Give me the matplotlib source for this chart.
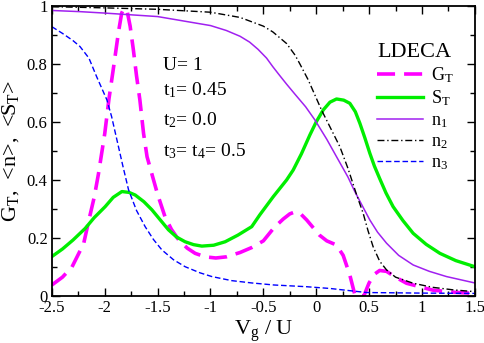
import matplotlib
matplotlib.use("Agg")
import matplotlib.pyplot as plt
from matplotlib.ticker import MultipleLocator

plt.rcParams["font.family"] = ["Liberation Serif", "DejaVu Serif"]
plt.rcParams["mathtext.fontset"] = "custom"
plt.rcParams["mathtext.rm"] = "Liberation Serif"
plt.rcParams["mathtext.it"] = "Liberation Serif:italic"

# G_T (conductance)
g_x = [-2.5, -2.4, -2.31, -2.2, -2.15, -2.1, -2.06, -2.0, -1.96, -1.92, -1.87, -1.84,
       -1.82, -1.79, -1.76, -1.73, -1.7, -1.668, -1.633, -1.6, -1.554, -1.5, -1.43,
       -1.37, -1.3, -1.22, -1.145, -1.05, -0.95, -0.85, -0.72, -0.61, -0.5, -0.4,
       -0.313, -0.25, -0.2, -0.15, -0.09, 0.03, 0.1, 0.19, 0.255, 0.318, 0.365, 0.38,
       0.45, 0.5, 0.55, 0.6, 0.665, 0.75, 0.854, 1.0, 1.106, 1.3, 1.5]
g_y = [0.038, 0.065, 0.10, 0.18, 0.262, 0.34, 0.42, 0.56, 0.68, 0.78, 0.91, 0.975,
       0.99, 0.985, 0.93, 0.85, 0.76, 0.676, 0.56, 0.48, 0.42, 0.35, 0.273,
       0.23, 0.193, 0.165, 0.147, 0.135, 0.131, 0.135, 0.15, 0.167, 0.19, 0.235,
       0.265, 0.283, 0.29, 0.284, 0.262, 0.21, 0.19, 0.176, 0.14, 0.072, 0.005, 0.0,
       0.0, 0.045, 0.075, 0.088, 0.085, 0.065, 0.044, 0.03, 0.02, 0.013, 0.009]

# S_T
s_x = [-2.5, -2.4, -2.3, -2.185, -2.1, -1.996, -1.92, -1.838, -1.77, -1.712, -1.63,
       -1.554, -1.47, -1.397, -1.32, -1.24, -1.16, -1.082, -0.97, -0.861, -0.74, -0.61,
       -0.533, -0.407, -0.28, -0.218, -0.14, -0.06, 0.0, 0.066, 0.13, 0.192, 0.26, 0.318,
       0.37, 0.413, 0.46, 0.507, 0.55, 0.6, 0.66, 0.727, 0.82, 0.917, 1.04, 1.17, 1.32, 1.5]
s_y = [0.136, 0.162, 0.193, 0.233, 0.27, 0.308, 0.34, 0.36, 0.357, 0.348, 0.325,
       0.297, 0.26, 0.228, 0.203, 0.187, 0.177, 0.172, 0.175, 0.187, 0.21, 0.239,
       0.28, 0.342, 0.40, 0.434, 0.49, 0.555, 0.60, 0.641, 0.668, 0.679, 0.675, 0.664,
       0.635, 0.595, 0.545, 0.492, 0.448, 0.405, 0.355, 0.308, 0.26, 0.216, 0.178, 0.147, 0.122, 0.101]

# n_1
n1_x = [-2.5, -2.235, -2.0, -1.5, -1.13, -1.0, -0.85, -0.72, -0.63, -0.55, -0.47, -0.41,
        -0.35, -0.28, -0.2, -0.1, -0.013, 0.1, 0.192, 0.3, 0.365, 0.43, 0.507, 0.58,
        0.665, 0.78, 0.917, 1.07, 1.232, 1.5]
n1_y = [0.984, 0.98, 0.975, 0.963, 0.94, 0.932, 0.915, 0.895, 0.875, 0.85, 0.82, 0.79,
        0.762, 0.73, 0.695, 0.652, 0.607, 0.54, 0.48, 0.41, 0.36, 0.315, 0.262, 0.22,
        0.182, 0.14, 0.107, 0.085, 0.067, 0.045]

# n_2
n2_x = [-2.5, -2.0, -1.5, -1.0, -0.72, -0.5, -0.41, -0.28, -0.2, -0.155, -0.076, 0.05,
        0.223, 0.3, 0.381, 0.444, 0.49, 0.538, 0.6, 0.665, 0.75, 0.917, 1.1, 1.3, 1.5]
n2_y = [0.997, 0.993, 0.988, 0.978, 0.96, 0.93, 0.91, 0.87, 0.83, 0.80, 0.745, 0.641,
        0.515, 0.44, 0.35, 0.285, 0.225, 0.17, 0.12, 0.09, 0.065, 0.044, 0.03, 0.021, 0.015]

# n_3
n3_x = [-2.5, -2.4, -2.3, -2.235, -2.15, -2.077, -1.98, -1.935, -1.885, -1.83, -1.775,
        -1.7, -1.618, -1.54, -1.46, -1.35, -1.24, -1.1, -0.987, -0.8, -0.61, -0.4,
        -0.09, 0.13, 0.476, 1.0, 1.5]
n3_y = [0.928, 0.905, 0.88, 0.86, 0.82, 0.756, 0.676, 0.618, 0.538, 0.45, 0.366,
        0.295, 0.239, 0.195, 0.159, 0.125, 0.101, 0.08, 0.067, 0.053, 0.045, 0.038,
        0.032, 0.026, 0.012, 0.01, 0.009]

params = ["U= 1", "t$_1$= 0.45", "t$_2$= 0.0", "t$_3$= t$_4$= 0.5"]
param_y = [0.78, 0.693, 0.59, 0.48]

fig = plt.figure(figsize=(4.85, 3.43), dpi=100)
ax = fig.add_axes([0.107, 0.137, 0.872, 0.846])

ax.plot(g_x, g_y, color="#ff00ff", lw=2.6, dashes=(5, 2.5), label="G$_\\mathrm{T}$")
ax.plot(s_x, s_y, color="#00ee00", lw=2.4, label="S$_\\mathrm{T}$")
ax.plot(n1_x, n1_y, color="#a020f0", lw=1.1, label="n$_1$")
ax.plot(n2_x, n2_y, color="black", lw=1.0, dashes=(5, 2, 1, 2), label="n$_2$")
ax.plot(n3_x, n3_y, color="#0000ff", lw=1.0, dashes=(4, 2), label="n$_3$")

for txt, yy in zip(params, param_y):
    ax.text(-1.45, yy, txt, fontsize=14, va="baseline", ha="left")

leg = ax.legend(loc="upper right", bbox_to_anchor=(0.975, 0.91), frameon=False,
                title="LDECA", fontsize=13, handlelength=2.5, labelspacing=0.2,
                handletextpad=0.45, alignment="left", borderaxespad=0.2)
leg.get_title().set_fontsize(16)

ax.set_xlim(-2.5, 1.5)
ax.set_ylim(0, 1)
ax.xaxis.set_minor_locator(MultipleLocator(0.25))
ax.yaxis.set_minor_locator(MultipleLocator(0.1))
ax.set_xticks([-2.5, -2, -1.5, -1, -0.5, 0, 0.5, 1, 1.5])
ax.set_xticklabels(["-2.5", "-2", "-1.5", "-1", "-0.5", "0", "0.5", "1", "1.5"])
ax.set_yticks([0, 0.2, 0.4, 0.6, 0.8, 1])
ax.set_yticklabels(["0", "0.2", "0.4", "0.6", "0.8", "1"])
ax.tick_params(which="both", direction="in", top=True, right=True, labelsize=12, pad=3)
ax.tick_params(which="major", length=6, width=1)
ax.tick_params(which="minor", length=3.5, width=1)
for sp in ax.spines.values():
    sp.set_linewidth(1.3)

ax.set_xlabel("V$_\\mathrm{g}$ / U", fontsize=16, labelpad=2)
ax.set_ylabel("G$_\\mathrm{T}$,  <n>,  <S$_\\mathrm{T}$>", fontsize=16, labelpad=4)

fig.savefig("out.png", dpi=100)
